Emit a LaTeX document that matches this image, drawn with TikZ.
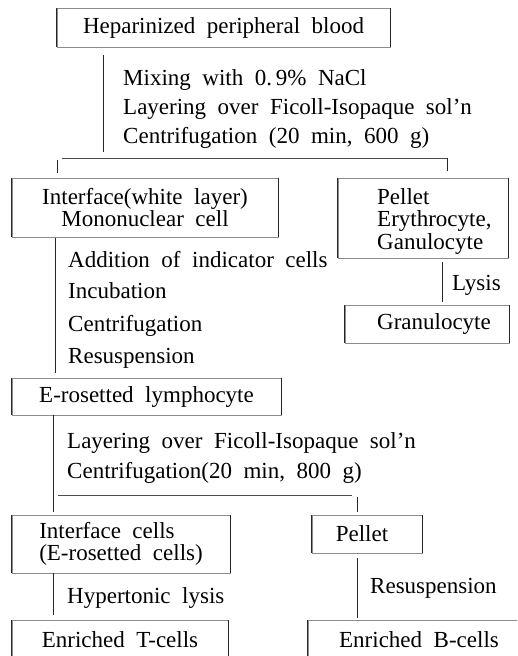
\documentclass[tikz,border=0pt]{standalone}
\usepackage{fontspec}
\setmainfont{Liberation Serif}[WordSpace=2]
\begin{document}
\begin{tikzpicture}[x=1pt,y=-1pt,
  every node/.style={font=\fontsize{23}{22.5}\selectfont, inner sep=0pt},
  box/.style={draw=black!45, line width=0.5pt},
  side/.style={draw=black!85, line width=0.8pt},
  conn/.style={draw=black!85, line width=0.8pt},
  hconn/.style={draw=black!70, line width=0.7pt},
  steptext/.style={anchor=base west}]
\useasboundingbox (0,0) rectangle (517,656);
\clip (0,0) rectangle (517,656);

% boxes
\node[box, minimum width=333, minimum height=39] (blood) at (223.5,27.5) {Heparinized peripheral blood};
\node[box, minimum width=266, minimum height=59, align=center] (inter) at (145,207.5) {Interface(white layer)\\Mononuclear cell};
\node[box, minimum width=170, minimum height=80] (pellet1) at (423,218) {};
\node[anchor=west, align=left] (pellet1t) at (377,221) {Pellet\\Erythrocyte,\\Ganulocyte};
\node[box, minimum width=164, minimum height=38] (gran) at (427,324) {\hspace*{14pt}Granulocyte};
\node[box, minimum width=269, minimum height=37] (eros) at (146.5,396.5) {E-rosetted lymphocyte};
\node[box, minimum width=218, minimum height=58, align=left] (icells) at (121,544) {Interface cells\\(E-rosetted cells)};
\node[box, minimum width=110, minimum height=38] (pellet2) at (367,534) {\hspace*{-10pt}Pellet};
\node[box, minimum width=216, minimum height=40] (tcells) at (120,640) {Enriched T-cells};
\node[box, minimum width=222, minimum height=40] (bcells) at (419,640) {Enriched B-cells};

\foreach \n in {blood,inter,pellet1,gran,eros,icells,pellet2,tcells,bcells}
  \draw[side] (\n.north west) -- (\n.south west) (\n.north east) -- (\n.south east);

% step texts
\node[steptext] (s1a) at (123,85) {Mixing with 0.\,9\% NaCl};
\node[steptext] (s1b) at (123,114) {Layering over Ficoll-Isopaque sol’n};
\node[steptext] (s1c) at (123,143) {Centrifugation (20 min, 600 g)};
\node[steptext] (s2a) at (68,267) {Addition of indicator cells};
\node[steptext] (s2b) at (68,298) {Incubation};
\node[steptext] (s2c) at (68,331) {Centrifugation};
\node[steptext] (s2d) at (68,363) {Resuspension};
\node[steptext] (s3) at (452,290) {Lysis};
\node[steptext] (s4a) at (67,448) {Layering over Ficoll-Isopaque sol’n};
\node[steptext] (s4b) at (67,478) {Centrifugation(20 min, 800 g)};
\node[steptext] (s5) at (67,603) {Hypertonic lysis};
\node[steptext] (s6) at (370,593) {Resuspension};

% connector coordinates
\coordinate (c1t) at (103,55);
\coordinate (c1b) at (103,152);
\coordinate (h1l) at (62,158);
\coordinate (h1r) at (447,158);
\coordinate (t1lt) at (57,160);
\coordinate (t1lb) at (57,173);
\coordinate (t1rb) at (447,171);
\coordinate (c2t) at (55,238);
\coordinate (c2b) at (55,373);
\coordinate (c3t) at (442,262);
\coordinate (c3b) at (442,302);
\coordinate (c4t) at (53,415);
\coordinate (c4b) at (53,512);
\coordinate (h2l) at (58,495);
\coordinate (h2r) at (352,495);
\coordinate (t2t) at (357,497);
\coordinate (t2b) at (357,512);
\coordinate (c5t) at (53,573);
\coordinate (c5b) at (53,615);
\coordinate (c6t) at (357,558);
\coordinate (c6b) at (357,618);

\draw[conn] (c1t) -- (c1b);
\draw[hconn] (h1l) -- (h1r);
\draw[conn] (t1lt) -- (t1lb);
\draw[conn] (h1r) -- (t1rb);
\draw[conn] (c2t) -- (c2b);
\draw[conn] (c3t) -- (c3b);
\draw[conn] (c4t) -- (c4b);
\draw[hconn] (h2l) -- (h2r);
\draw[conn] (t2t) -- (t2b);
\draw[conn] (c5t) -- (c5b);
\draw[conn] (c6t) -- (c6b);
\end{tikzpicture}
\end{document}
